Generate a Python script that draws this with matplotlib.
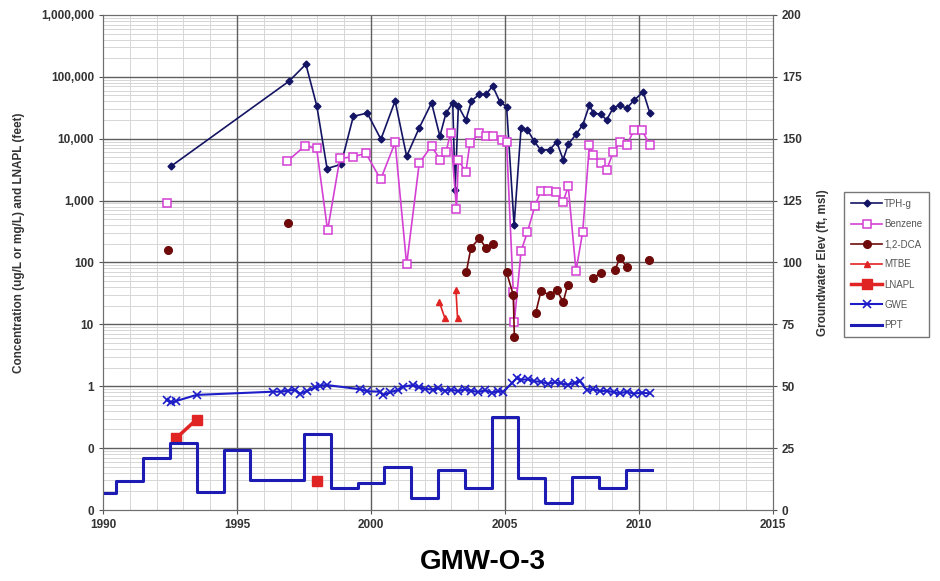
import numpy as np
import matplotlib
matplotlib.use("Agg")
import matplotlib.pyplot as plt
from matplotlib.ticker import FixedLocator, FuncFormatter, LogLocator, NullFormatter

plt.rcParams["font.family"] = ["Liberation Sans", "DejaVu Sans"]

nan = np.nan

# TPH-g (ug/L)
tph_year = [1992.54, 1996.94, 1997.57, 1997.98, 1998.36, 1998.88, 1999.34, 1999.86, 2000.37, 2000.90,
            2001.33, 2001.80, 2002.26, 2002.57, 2002.80, 2003.05, 2003.14, 2003.26, 2003.54, 2003.75,
            2004.04, 2004.29, 2004.54, 2004.81, 2005.06, 2005.34, 2005.60, 2005.84, 2006.09, 2006.34,
            2006.68, 2006.93, 2007.17, 2007.36, 2007.65, 2007.90, 2008.15, 2008.30, 2008.60, 2008.79,
            2009.04, 2009.29, 2009.54, 2009.82, 2010.16, 2010.41]
tph = [3600, 85000, 160000, 33600, 3300, 3850, 23000, 26000, 9800, 41000,
       5200, 15000, 38000, 11000, 26000, 38000, 1500, 33600, 20000, 41000,
       52000, 52000, 71000, 39500, 33000, 400, 15000, 14000, 9100, 6500,
       6700, 8900, 4600, 8100, 11800, 16600, 35000, 26000, 24700, 20000,
       31700, 35000, 31000, 42000, 57000, 25700]

# Benzene (ug/L)
bz_year = [1992.40, 1994.0, 1996.88, 1997.54, 1997.97, 1998.38, 1998.84, 1999.31, 1999.81, 2000.36, 2000.90,
           2001.33, 2001.80, 2002.26, 2002.57, 2002.80, 2002.97, 2003.19, 2003.26, 2003.54, 2003.69,
           2004.04, 2004.29, 2004.56, 2004.87, 2005.06, 2005.31, 2005.35, 2005.60, 2005.84, 2006.12,
           2006.34, 2006.62, 2006.90, 2007.17, 2007.36, 2007.65, 2007.90, 2008.15, 2008.30, 2008.60,
           2008.79, 2009.04, 2009.29, 2009.54, 2009.82, 2010.10, 2010.41]
benzene = [900, nan, 4350, 7700, 7000, 330, 4800, 5100, 5800, 2200, 8700,
           93, 4000, 7700, 4600, 6100, 12500, 730, 4500, 2900, 8400,
           12200, 11000, 11000, 9500, 8700, 33, 11, 153, 313, 830,
           1420, 1420, 1400, 960, 1700, 73, 313, 7900, 5500, 4000,
           3100, 6100, 8900, 7900, 13800, 14000, 7900]

# 1,2-DCA (ug/L), gaps where no line is drawn
dca_year = [1992.42, 1994.0, 1996.90, 2000.0, 2003.56, 2003.73, 2004.04, 2004.31, 2004.56, 2004.8,
            2005.06, 2005.31, 2005.35, 2005.7, 2006.14, 2006.34, 2006.68, 2006.93, 2007.17, 2007.34,
            2007.8, 2008.27, 2008.60, 2008.8, 2009.10, 2009.29, 2009.54, 2009.9, 2010.37]
dca = [160, nan, 430, nan, 71, 173, 245, 169, 196, nan,
       69, 30, 6.3, nan, 15, 34, 30, 36, 23, 43,
       nan, 57, 67, nan, 75, 119, 85, nan, 110]

# MTBE (ug/L)
mtbe_year = [2002.55, 2002.76, 2002.95, 2003.17, 2003.23]
mtbe = [23, 12.5, nan, 36, 12.5]

# LNAPL (feet)
lnapl_year = [1992.72, 1993.49, 1995.0, 1997.99]
lnapl = [0.144, 0.29, nan, 0.029]

# Groundwater elevation (ft msl)
gwe_year = [1992.37, 1992.55, 1992.72, 1993.49, 1996.35, 1996.65, 1996.90, 1997.15, 1997.35, 1997.60,
            1997.90, 1998.10, 1998.34, 1999.59, 1999.85, 2000.34, 2000.46, 2000.70, 2001.00, 2001.20,
            2001.57, 2001.80, 2002.00, 2002.30, 2002.50, 2002.75, 2003.00, 2003.25, 2003.50, 2003.75,
            2004.00, 2004.25, 2004.50, 2004.75, 2004.94, 2005.25, 2005.43, 2005.60, 2005.85, 2006.10,
            2006.35, 2006.60, 2006.85, 2007.10, 2007.35, 2007.60, 2007.80, 2008.05, 2008.30, 2008.55,
            2008.80, 2009.05, 2009.30, 2009.55, 2009.80, 2010.10, 2010.41]
gwe = [44.4, 43.5, 44.0, 46.5, 47.8, 47.8, 48.2, 48.6, 47.0, 48.0,
       49.5, 50.2, 50.5, 48.8, 48.0, 47.8, 46.5, 47.5, 48.5, 49.8,
       50.5, 49.5, 49.0, 48.6, 49.2, 48.2, 48.6, 48.0, 48.8, 48.2,
       47.6, 48.4, 47.4, 48.0, 47.8, 51.2, 53.2, 52.6, 52.8, 52.0,
       51.8, 51.0, 51.6, 51.2, 50.6, 51.4, 52.0, 48.5, 48.8, 48.0,
       48.2, 47.6, 47.2, 47.8, 47.0, 47.4, 47.1]

# Precipitation (scaled, right axis), step changes
ppt_year = [1990.0, 1990.5, 1991.5, 1992.5, 1993.5, 1994.5, 1995.5, 1997.5, 1998.5, 1999.5,
            2000.5, 2001.5, 2002.5, 2003.5, 2004.5, 2005.5, 2006.5, 2007.5, 2008.5, 2009.5, 2010.5]
ppt = [6.7, 11.8, 20.9, 27.2, 7.4, 24.2, 12.1, 30.7, 8.8, 11.0,
       17.5, 4.7, 16.2, 8.8, 37.7, 12.8, 2.7, 13.5, 8.8, 16.2, 16.2]

left_ticks = [0.01, 0.1, 1, 10, 100, 1000, 10000, 100000, 1000000]
right_ticks = [0, 25, 50, 75, 100, 125, 150, 175, 200]
year_ticks = [1990, 1995, 2000, 2005, 2010, 2015]

fig = plt.figure(figsize=(9.4, 5.81), dpi=100)
ax = fig.add_axes([0.1096, 0.1222, 0.7127, 0.852])
ax2 = ax.twinx()

ax.set_yscale("log")
ax.set_ylim(0.01, 1e6)
ax.set_xlim(1990, 2015)
ax2.set_ylim(0, 200)

ax.xaxis.set_major_locator(FixedLocator(year_ticks))
ax.xaxis.set_minor_locator(FixedLocator([y for y in range(1990, 2016) if y % 5]))
ax.yaxis.set_major_locator(FixedLocator(left_ticks))
ax.yaxis.set_minor_locator(LogLocator(base=10, subs=np.arange(2, 10)))
ax.yaxis.set_minor_formatter(NullFormatter())
ax.yaxis.set_major_formatter(FuncFormatter(lambda v, _: f"{v:,.0f}"))
ax2.yaxis.set_major_locator(FixedLocator(right_ticks))

# light grid underneath, darker major lines drawn on top of it
ax.grid(which="minor", color="#d6d6d6", linewidth=0.7, zorder=0.5)
ax.set_axisbelow(True)
for yr in year_ticks[1:-1]:
    ax.axvline(yr, color="#5e5e5e", linewidth=1.0, zorder=0.8)
for v in left_ticks[1:-1]:
    ax.axhline(v, color="#5e5e5e", linewidth=1.0, zorder=0.8)
for side in ["top", "bottom", "left", "right"]:
    ax.spines[side].set_color("#6e6e6e")
    ax2.spines[side].set_color("#6e6e6e")

tick_kw = dict(labelsize=8.5, length=3, color="#555555")
ax.tick_params(axis="both", which="major", **tick_kw)
ax.tick_params(axis="both", which="minor", length=0)
ax2.tick_params(axis="y", **tick_kw)
for lbl in ax.get_xticklabels() + ax.get_yticklabels() + ax2.get_yticklabels():
    lbl.set_fontweight("bold")
    lbl.set_color("#333333")

h1, = ax.plot(tph_year, tph, color="#141464", marker="D", markersize=3.5, linewidth=1.2, label="TPH-g")
h2, = ax.plot(bz_year, benzene, color="#d43fd4", marker="s", markersize=5.5, markerfacecolor="white",
              markeredgewidth=1.1, linewidth=1.2, label="Benzene")
h3, = ax.plot(dca_year, dca, color="#6e0a0a", marker="o", markersize=5.5, linewidth=1.2, label="1,2-DCA")
h4, = ax.plot(mtbe_year, mtbe, color="#e02424", marker="^", markersize=5, linewidth=1.2, label="MTBE")
h5, = ax.plot(lnapl_year, lnapl, color="#e02424", marker="s", markersize=7, linewidth=2.5, label="LNAPL")
h6, = ax2.plot(gwe_year, gwe, color="#1c1cc8", marker="x", markersize=6, markeredgewidth=1.2,
               linewidth=1.5, label="GWE")
h7, = ax2.plot(ppt_year, ppt, color="#1c1cb4", drawstyle="steps-post", linewidth=2.2, label="PPT")

ax.set_ylabel("Concentration (ug/L or mg/L) and LNAPL (feet)", fontsize=8.5, fontweight="bold",
              color="#333333")
ax2.set_ylabel("Groundwater Elev (ft, msl)", fontsize=8.5, fontweight="bold", color="#333333")
ax.yaxis.set_label_coords(-0.117, 0.54)
ax2.yaxis.set_label_coords(1.066, 0.5)

fig.text(0.514, 0.032, "GMW-O-3", fontsize=20, fontweight="bold", ha="center", va="center")

leg = fig.legend(handles=[h1, h2, h3, h4, h5, h6, h7], loc="upper left",
                 bbox_to_anchor=(0.893, 0.678), fontsize=7, frameon=True, fancybox=False,
                 handlelength=3.2, labelspacing=1.05, borderpad=0.7, handletextpad=0.2)
leg.get_frame().set_edgecolor("#555555")
leg.get_frame().set_linewidth(1.0)
for t in leg.get_texts():
    t.set_color("#555555")

fig.savefig("out.png", dpi=100)
